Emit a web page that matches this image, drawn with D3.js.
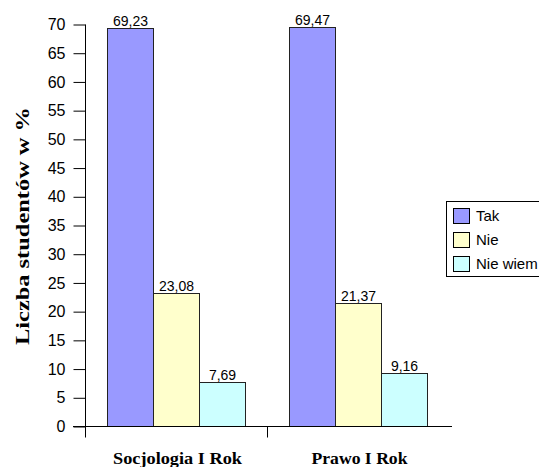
<!DOCTYPE html>
<html><head><meta charset="utf-8">
<script src="https://cdn.jsdelivr.net/npm/d3@7"></script>
<style>body{margin:0;background:#fff}svg{display:block}</style>
</head><body>
<script>
const categories = ["Socjologia I Rok", "Prawo I Rok"];
const seriesNames = ["Tak", "Nie", "Nie wiem"];
const tak = [69.23, 69.47];
const nie = [23.08, 21.37];
const nieWiem = [7.69, 9.16];
const yTicks = [0,5,10,15,20,25,30,35,40,45,50,55,60,65,70];
const colors = ["#9999FF", "#FFFFCC", "#CCFFFF"];
const seriesValues = [tak, nie, nieWiem];

const W = 539, H = 467;
const svg = d3.select("body").append("svg").attr("width", W).attr("height", H);

const x0 = d3.scaleBand().domain(categories).range([85, 449]).paddingInner(0).paddingOuter(0);
const x1 = d3.scaleBand().domain(seriesNames).range([0, x0.bandwidth()]).paddingOuter(0.478).paddingInner(0);
const y = d3.scaleLinear().domain([0, 70]).range([426, 24]);

// bars
categories.forEach((c, ci) => {
  seriesNames.forEach((s, si) => {
    const v = seriesValues[si][ci];
    const bx = x0(c) + x1(s);
    svg.append("rect")
      .attr("x", Math.round(bx) + 0.5)
      .attr("y", Math.round(y(v)) + 0.5)
      .attr("width", Math.round(x1.bandwidth()))
      .attr("height", Math.round(y(0)) - Math.round(y(v)))
      .attr("fill", colors[si]).attr("stroke", "#222").attr("stroke-width", 1);
    svg.append("text")
      .attr("x", bx + x1.bandwidth() / 2 + 0.5)
      .attr("y", y(v) - 2)
      .attr("text-anchor", "middle")
      .attr("font-family", "Liberation Sans, Arial, sans-serif")
      .attr("font-size", 14)
      .attr("fill", "#000")
      .text(String(v.toFixed(2)).replace(".", ","));
  });
});

// y axis
const yAxis = d3.axisLeft(y).tickValues(yTicks).tickSize(12).tickPadding(8).tickFormat(d3.format("d"));
const gy = svg.append("g").attr("transform", "translate(85.5,0.5)").call(yAxis);
gy.select(".domain").attr("d", `M0,${y(70)}V${y(0)}`).attr("stroke", "#000");
gy.selectAll(".tick line").attr("stroke", "#000");
gy.selectAll(".tick text").attr("font-family", "Liberation Sans, Arial, sans-serif").attr("font-size", 16).attr("fill", "#000");

// x axis
const gx = svg.append("g").attr("transform", `translate(0,${Math.round(y(0)) + 0.5})`);
gx.append("line").attr("x1", 73).attr("x2", 452).attr("stroke", "#000");
[x0.range()[0], x0(categories[1])].forEach(t => {
  gx.append("line").attr("x1", Math.round(t) + 0.5).attr("x2", Math.round(t) + 0.5)
    .attr("y1", 0).attr("y2", 11).attr("stroke", "#000");
});
const catLen = [129, 96];
categories.forEach((c, i) => {
  svg.append("text")
    .attr("x", x0(c) + x0.bandwidth() / 2 + 1.5)
    .attr("y", 464)
    .attr("text-anchor", "middle")
    .attr("font-family", "Liberation Serif, Times New Roman, serif")
    .attr("font-weight", "bold")
    .attr("font-size", 17)
    .attr("textLength", catLen[i])
    .attr("lengthAdjust", "spacingAndGlyphs")
    .text(c);
});

// y title
svg.append("text")
  .attr("transform", "translate(29,226) rotate(-90)")
  .attr("text-anchor", "middle")
  .attr("font-family", "Liberation Serif, Times New Roman, serif")
  .attr("font-weight", "bold")
  .attr("font-size", 19)
  .attr("textLength", 238)
  .attr("lengthAdjust", "spacingAndGlyphs")
  .text("Liczba studentów w %");

// legend
const lg = svg.append("g");
lg.append("rect").attr("x", 446.5).attr("y", 201.5).attr("width", 100).attr("height", 75)
  .attr("fill", "#fff").attr("stroke", "#000");
seriesNames.forEach((s, i) => {
  const cy = 216 + i * 24;
  lg.append("rect").attr("x", 453.5).attr("y", cy - 7.5).attr("width", 16).attr("height", 15)
    .attr("fill", colors[i]).attr("stroke", "#000");
  lg.append("text").attr("x", 476).attr("y", cy + 5)
    .attr("font-family", "Liberation Sans, Arial, sans-serif").attr("font-size", 15)
    .attr("fill", "#000").text(s);
});
</script>
</body></html>
